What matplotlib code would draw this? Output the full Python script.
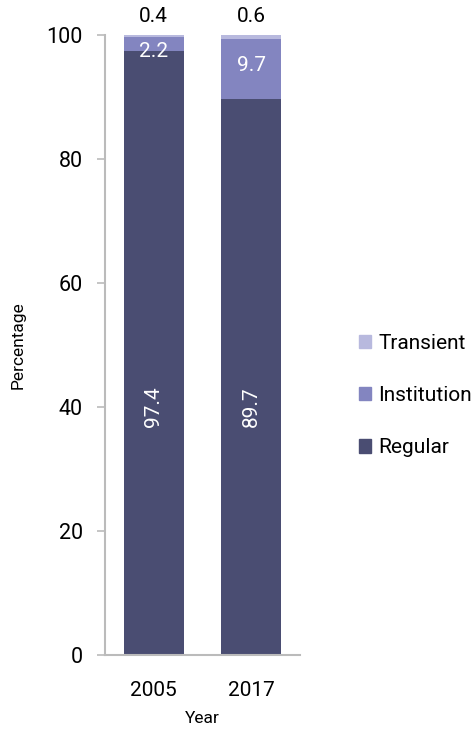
import matplotlib
matplotlib.use("Agg")
import matplotlib.pyplot as plt
from matplotlib.patches import Patch

years = ["2005", "2017"]
regular = [97.4, 89.7]
institution = [2.2, 9.7]
transient = [0.4, 0.6]
series_names = ["Regular", "Institution", "Transient"]
colors = ["#4a4d72", "#8385c0", "#b8b9de"]

plt.rcParams['font.family'] = ['Roboto', 'DejaVu Sans']

fig = plt.figure(figsize=(4.72, 7.42), dpi=100)
ax = fig.add_axes([0.2225, 0.1173, 0.4131, 0.8356])

x = range(len(years))
w = 0.62
ax.bar(x, regular, w, color=colors[0])
ax.bar(x, institution, w, bottom=regular, color=colors[1])
bottom3 = [a + b for a, b in zip(regular, institution)]
ax.bar(x, transient, w, bottom=bottom3, color=colors[2])

inst_shift = [-1.2, 0.6]
for i in x:
    ax.text(i, 40, f"{regular[i]}", rotation=90, color="white", ha="center",
            va="center", fontsize=15)
    ax.text(i, regular[i] + institution[i] / 2 + inst_shift[i], f"{institution[i]}",
            color="white", ha="center", va="center", fontsize=15)
    ax.text(i, 101.4, f"{transient[i]}", color="black", ha="center",
            va="bottom", fontsize=15)

ax.set_xlim(-0.5, 1.5)
ax.set_ylim(0, 100)
ax.set_yticks([0, 20, 40, 60, 80, 100])
ax.set_xticks(list(x))
ax.set_xticklabels(years)
ax.tick_params(axis="y", labelsize=15.5, length=6, color="#bbbbbb", width=1.2, pad=10)
ax.tick_params(axis="x", labelsize=15, length=0, pad=19)
for s in ["top", "right"]:
    ax.spines[s].set_visible(False)
for s in ["left", "bottom"]:
    ax.spines[s].set_color("#bbbbbb")
    ax.spines[s].set_linewidth(1.5)

ax.set_ylabel("Percentage", fontsize=12.5, labelpad=15)
ax.set_xlabel("Year", fontsize=12.5, labelpad=8)

handles = [Patch(color=colors[2]), Patch(color=colors[1]), Patch(color=colors[0])]
fig.legend(handles, ["Transient", "Institution", "Regular"], loc="center left",
           bbox_to_anchor=(0.72, 0.467), frameon=False, fontsize=15,
           handlelength=0.6, handleheight=0.6, handletextpad=0.35, labelspacing=1.6)

fig.savefig("out.png", dpi=100)
